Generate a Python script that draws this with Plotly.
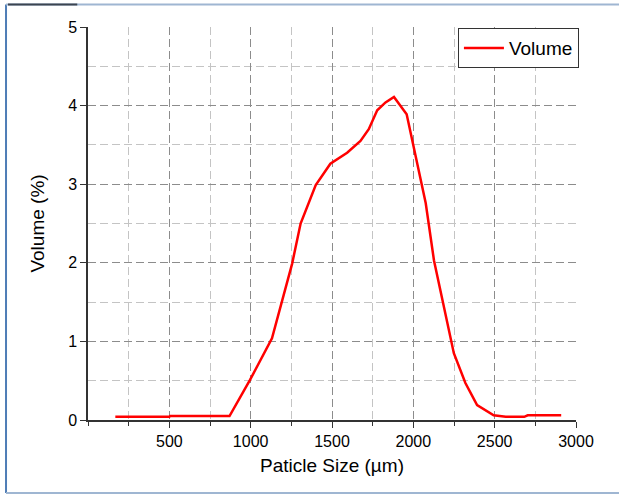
import plotly.graph_objects as go

# Particle size distribution (volume fraction per size class)
particle_size_um = [168, 500, 505, 870, 996, 1131, 1255, 1307, 1400, 1490,
                    1593, 1675, 1726, 1778, 1829, 1881, 1959, 2004, 2045, 2076,
                    2127, 2249, 2320, 2392, 2494, 2568, 2682, 2703, 2909]
volume_pct = [0.04, 0.04, 0.05, 0.05, 0.51, 1.04, 1.99, 2.50, 2.99, 3.26,
              3.40, 3.55, 3.70, 3.94, 4.04, 4.11, 3.89, 3.47, 3.05, 2.76,
              2.03, 0.85, 0.47, 0.19, 0.06, 0.04, 0.04, 0.06, 0.06]

x_ticks = [500, 1000, 1500, 2000, 2500, 3000]
y_ticks = [0, 1, 2, 3, 4, 5]

FONT = "Liberation Sans, Arial, sans-serif"
MAJOR_GRID = "#8c8c8c"
MINOR_GRID = "#c4c4c4"
DASH = "8px,4px"

fig = go.Figure()
fig.add_trace(go.Scatter(
    x=particle_size_um, y=volume_pct, mode="lines", name="Volume",
    line=dict(color="#ff0000", width=2.5),
))

fig.update_layout(
    width=619, height=496,
    margin=dict(l=88, r=43, t=27, b=76),
    paper_bgcolor="white", plot_bgcolor="white",
    font=dict(family=FONT, color="#000000", size=16),
    showlegend=True,
    legend=dict(
        x=1.006, y=0.997, xanchor="right", yanchor="top",
        bgcolor="white", bordercolor="#333333", borderwidth=1,
        font=dict(size=19, family=FONT),
        itemwidth=40,
        tracegroupgap=0,
    ),
    xaxis=dict(
        range=[0, 3000],
        tickvals=x_ticks, ticktext=[str(v) for v in x_ticks],
        ticks="outside", ticklen=6, tickwidth=1.2, tickcolor="#333333",
        showline=True, linecolor="#333333", linewidth=1.5,
        showgrid=True, gridcolor=MAJOR_GRID, gridwidth=1, griddash=DASH,
        zeroline=False,
        minor=dict(dtick=250, tick0=0, ticks="outside", ticklen=4,
                   tickcolor="#333333", showgrid=True, gridcolor=MINOR_GRID,
                   griddash=DASH, gridwidth=1),
        tickfont=dict(size=16),
        title=dict(text="Paticle Size (µm)", font=dict(size=19), standoff=10),
    ),
    yaxis=dict(
        range=[0, 5],
        tickvals=y_ticks, ticktext=[str(v) for v in y_ticks],
        ticks="outside", ticklen=6, tickwidth=1.2, tickcolor="#333333",
        showline=True, linecolor="#333333", linewidth=1.5,
        showgrid=True, gridcolor=MAJOR_GRID, gridwidth=1, griddash=DASH,
        zeroline=False,
        minor=dict(dtick=0.5, tick0=0, ticks="", showgrid=True,
                   gridcolor=MINOR_GRID, griddash=DASH, gridwidth=1),
        tickfont=dict(size=16),
        title=dict(text="Volume (%)", font=dict(size=19), standoff=18),
    ),
)

# Outer frame around the figure
frame = dict(xref="paper", yref="paper", layer="above")
fig.add_shape(type="line", x0=-0.168, x1=-0.168, y0=1.057, y1=-0.186,
              line=dict(color="#4f7db6", width=2), **frame)
fig.add_shape(type="line", x0=-0.168, x1=1.1, y0=1.057, y1=1.057,
              line=dict(color="#9fb6d2", width=2), **frame)
fig.add_shape(type="line", x0=-0.164, x1=-0.022, y0=1.057, y1=1.057,
              line=dict(color="#3c4450", width=2), **frame)
fig.add_shape(type="line", x0=-0.168, x1=1.1, y0=-0.186, y1=-0.186,
              line=dict(color="#9fb6d2", width=2), **frame)

fig.write_html("out.html")
